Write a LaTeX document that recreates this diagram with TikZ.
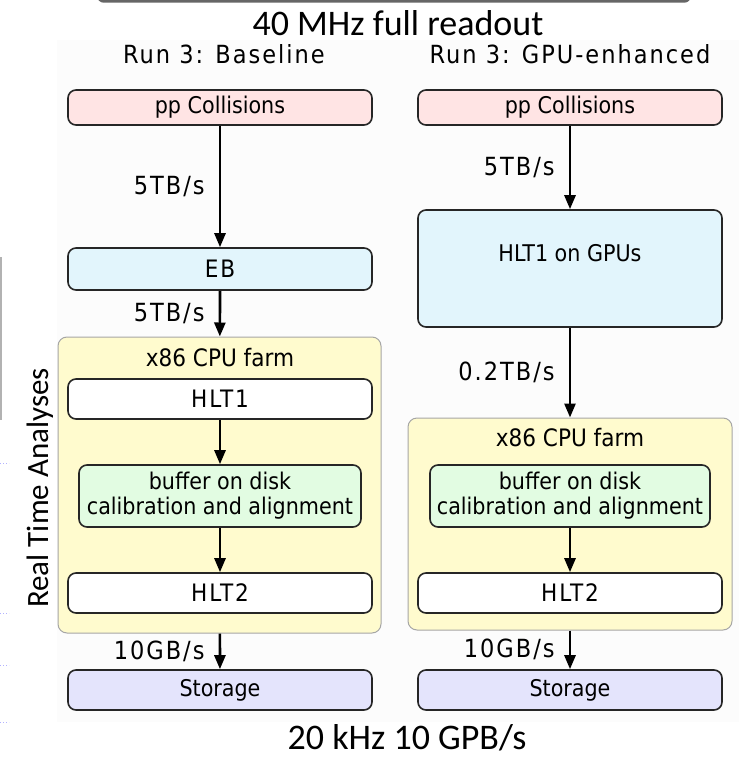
\documentclass[tikz,border=0pt]{standalone}
\usepackage{fontspec}
\setmainfont{Carlito}
\newfontfamily\boxfont{DejaVu Sans Condensed}
\newfontfamily\spacedfont[LetterSpace=8]{DejaVu Sans Condensed}
\usetikzlibrary{arrows.meta}
\definecolor{collide}{RGB}{255,228,228}
\definecolor{build}{RGB}{226,245,252}
\definecolor{farm}{RGB}{255,251,206}
\definecolor{buffer}{RGB}{226,252,226}
\definecolor{store}{RGB}{228,228,252}

\begin{document}
\begin{tikzpicture}[x=1pt,y=-1pt,>={Triangle[length=14pt,width=11pt]},
  box/.style={draw=black!85,line width=1.6pt,rounded corners=8pt,minimum width=304pt,minimum height=40pt,
    inner sep=0pt,align=center,font=\boxfont\fontsize{23}{25}\selectfont},
  farmbox/.style={draw=black!35,line width=1pt,fill=farm,rounded corners=9pt,inner sep=0pt},
  rate/.style={midway,left=14pt,inner sep=0pt,font=\spacedfont\fontsize{25}{27}\selectfont},
  head/.style={anchor=base,inner sep=0pt,font=\spacedfont\fontsize{25}{27}\selectfont},
  flow/.style={->,line width=2.7pt}]
\useasboundingbox (0,0) rectangle (739,757);
\fill[black!1] (57,40) rectangle (739,722);
\draw[black!60,line width=2.5pt,rounded corners=6pt] (98,-20) -- (98,1.5) -- (690,1.5) -- (690,-20);
\draw[black!30,line width=1.5pt] (1,257) -- (1,420);
\foreach \y in {463,613,665,722}
  \draw[blue!30,dotted,line width=1pt] (0,\y) -- (9,\y);

\node[anchor=base,inner sep=0pt,font=\fontsize{36}{40}\selectfont] (title) at (398,36) {40 MHz full readout};
\node[anchor=base,inner sep=0pt,font=\fontsize{36}{40}\selectfont] (rate) at (407,749) {20 kHz 10 GPB/s};
\node[anchor=base,rotate=90,inner sep=0pt,font=\fontsize{31}{34}\selectfont] (rta) at (48,488) {Real Time Analyses};

\node[head] (headL) at (224,64) {Run 3: Baseline};
\node[head] (headR) at (570,64) {Run 3: GPU-enhanced};

\node[farmbox,minimum width=323pt,minimum height=296pt] (farmL) at (219.5,485) {};
\node[farmbox,minimum width=324pt,minimum height=212pt] (farmR) at (570,524) {};
\node[anchor=base,inner sep=0pt,font=\boxfont\fontsize{24}{26}\selectfont] (cpuL) at (220,366) {x86 CPU farm};
\node[anchor=base,inner sep=0pt,font=\boxfont\fontsize{24}{26}\selectfont] (cpuR) at (570,446) {x86 CPU farm};

\node[box,fill=collide,minimum height=35pt] (ppL) at (220,107.5) {pp Collisions};
\node[box,fill=build,minimum height=42pt,font=\spacedfont\fontsize{24}{26}\selectfont] (ebL) at (220,269) {EB};
\node[box,fill=white,font=\spacedfont\fontsize{24}{26}\selectfont] (hltoneL) at (220,399) {HLT1};
\node[box,fill=buffer,minimum width=282pt,minimum height=62pt] (bufL) at (220,496) {buffer on disk\\calibration and alignment};
\node[box,fill=white,font=\spacedfont\fontsize{24}{26}\selectfont] (hlttwoL) at (220,593) {HLT2};
\node[box,fill=store] (storeL) at (220,690) {Storage};

\node[box,fill=collide,minimum height=35pt] (ppR) at (570,107.5) {pp Collisions};
\node[box,fill=build,text height=51pt,text depth=66pt] (gpuR) at (570,268.5) {HLT1 on GPUs};
\node[box,fill=buffer,minimum width=280pt,minimum height=62pt] (bufR) at (570,496) {buffer on disk\\calibration and alignment};
\node[box,fill=white,font=\spacedfont\fontsize{24}{26}\selectfont] (hlttwoR) at (570,593) {HLT2};
\node[box,fill=store] (storeR) at (570,690) {Storage};

\draw[flow] (ppL) -- node[rate] (rateA) {5TB/s} (ebL);
\draw[flow] (ebL) -- node[rate] (rateB) {5TB/s} (farmL);
\draw[flow] (hltoneL) -- (bufL);
\draw[flow] (bufL) -- (hlttwoL);
\draw[flow] (farmL) -- node[rate] (rateC) {10GB/s} (storeL);

\draw[flow] (ppR) -- node[rate] (rateD) {5TB/s} (gpuR);
\draw[flow] (gpuR) -- node[rate] (rateE) {0.2TB/s} (farmR);
\draw[flow] (bufR) -- (hlttwoR);
\draw[flow] (farmR) -- node[rate] (rateF) {10GB/s} (storeR);
\end{tikzpicture}
\end{document}
